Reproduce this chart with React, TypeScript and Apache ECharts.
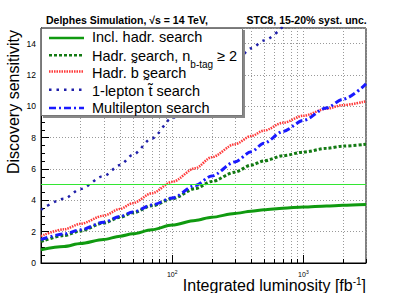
import React, { useEffect, useRef } from "react";
import * as echarts from "echarts";

// ---- data ----
const lumi = [10, 15, 20, 30, 40, 50, 70, 100, 150, 200, 300, 400, 500, 700, 1000, 1500, 2000, 3000];
const inclHadr = [0.85, 1.05, 1.24, 1.5, 1.71, 1.86, 2.12, 2.42, 2.72, 2.92, 3.16, 3.3, 3.4, 3.5, 3.57, 3.64, 3.68, 3.73];
const hadrNb2 = [1.36, 1.75, 2.05, 2.55, 2.92, 3.2, 3.65, 4.1, 4.75, 5.2, 5.8, 6.25, 6.52, 6.85, 7.08, 7.32, 7.46, 7.58];
const hadrB = [1.72, 2.15, 2.5, 3.02, 3.45, 3.82, 4.45, 5.18, 6.05, 6.75, 7.58, 8.1, 8.45, 8.95, 9.4, 9.85, 10.08, 10.32];
const multilep = [1.5, 1.85, 2.12, 2.6, 2.97, 3.25, 3.7, 4.15, 4.95, 5.55, 6.45, 7.1, 7.65, 8.4, 9.1, 9.9, 10.45, 11.43];
const lumiStop = [10, 15, 20, 30, 40, 50, 70, 100, 150, 200, 300, 400, 500, 700];
const oneLepStop = [3.4, 4.1, 4.72, 5.55, 6.25, 6.9, 7.95, 9.25, 10.55, 11.45, 12.8, 13.7, 14.2, 15.1];
const discoveryLevel = 5;

const xMajorTicks = [100, 1000];
const xMinorTicks = [20, 30, 40, 50, 60, 70, 80, 90, 200, 300, 400, 500, 600, 700, 800, 900, 2000, 3000];

const legendNames = [
  "Incl. hadr. search",
  "Hadr. search, n_b-tag ≥ 2",
  "Hadr. b search",
  "1-lepton t̃ search",
  "Multilepton search",
];

const FONT = '"Liberation Sans", Arial, Helvetica, sans-serif';

const styles = [
  { color: "#109a10", width: 3, dash: "solid" as any },
  { color: "#137a13", width: 3, dash: [3, 2] },
  { color: "#ff3a3a", width: 2.5, dash: [1.5, 1] },
  { color: "#2020aa", width: 2.5, dash: [2.5, 5] },
  { color: "#1a1aff", width: 3, dash: [7, 3, 2, 3] },
];

export default function App() {
  const ref = useRef<HTMLDivElement>(null);
  useEffect(() => {
    document.body.style.margin = "0";
    const chart = echarts.init(ref.current!, null, { renderer: "svg" });
    const seriesData = [
      lumi.map((x, i) => [x, inclHadr[i]]),
      lumi.map((x, i) => [x, hadrNb2[i]]),
      lumi.map((x, i) => [x, hadrB[i]]),
      lumiStop.map((x, i) => [x, oneLepStop[i]]),
      lumi.map((x, i) => [x, multilep[i]]),
    ];
    const gridTicks = [
      ...xMajorTicks.map((v) => [v, 0, 1]),
      ...xMinorTicks.map((v) => [v, 0, 0]),
    ];

    const lineSeries: any[] = seriesData.map((d, i) => ({
      type: "line",
      name: legendNames[i],
      data: d,
      showSymbol: false,
      symbol: "none",
      smooth: 0.3,
      smoothMonotone: "x",
      clip: true,
      z: 3,
      lineStyle: { color: styles[i].color, width: styles[i].width, type: styles[i].dash },
      ...(i === 0
        ? {
            markLine: {
              silent: true,
              symbol: ["none", "none"],
              label: { show: false },
              lineStyle: { color: "#33e633", width: 1, type: "solid" },
              data: [{ yAxis: discoveryLevel }],
            },
          }
        : {}),
    }));

    const rowY = [38, 55.3, 71.5, 89.7, 108];
    const textY = [37, 55.5, 72.5, 91, 107.5];
    const legendGraphics: any[] = [
      { type: "rect", shape: { x: 43, y: 30, width: 202, height: 88 }, style: { fill: "#888" }, z: 10 },
      { type: "rect", shape: { x: 41.5, y: 28.5, width: 201, height: 87 }, style: { fill: "#fff", stroke: "#777", lineWidth: 1 }, z: 11 },
    ];
    rowY.forEach((y, i) => {
      legendGraphics.push({
        type: "line",
        z: 12,
        shape: { x1: 49, y1: y, x2: 84, y2: y },
        style: {
          stroke: styles[i].color,
          lineWidth: Math.min(styles[i].width, 2.5),
          lineDash: styles[i].dash === "solid" ? null : styles[i].dash,
        },
      });
    });
    const legendTexts = [
      "{a|Incl. hadr. search}",
      "{a|Hadr. s\u0330earch, n}{b|b-tag}{a| ≥ 2}",
      "{a|Hadr. b s\u0330earch}",
      "{a|1-lepton t\u0303 search}",
      "{a|Multilepton search}",
    ];
    legendTexts.forEach((t, i) => {
      legendGraphics.push({
        type: "text",
        z: 12,
        x: 92,
        y: textY[i],
        style: {
          text: t,
          align: "left",
          verticalAlign: "middle",
          rich: {
            a: { fontSize: 14.5, fontFamily: FONT, fill: "#000", lineHeight: 28 },
            b: { fontSize: 10, fontFamily: FONT, fill: "#000", verticalAlign: "bottom", lineHeight: 12 },
          },
        },
      });
    });

    const option: any = {
      animation: false,
      backgroundColor: "#fff",
      grid: { left: 41, right: 41, top: 28, bottom: 30, show: true, borderColor: "#000", borderWidth: 1 },
      xAxis: {
        type: "log",
        logBase: 10,
        min: 10,
        max: 3000,
        axisLine: { show: true, onZero: false, lineStyle: { color: "#000", width: 1 } },
        axisTick: { show: false },
        splitLine: { show: false },
        axisLabel: {
          margin: 6,
          color: "#000",
          fontFamily: FONT,
          fontSize: 7,
          showMinLabel: false,
          showMaxLabel: false,
          formatter: (v: number) => (Math.abs(v - 100) < 1e-6 ? "{b|10}{s|2}" : Math.abs(v - 1000) < 1e-6 ? "{b|10}{s|3}" : ""),
          rich: {
            b: { fontSize: 7, fontFamily: FONT, color: "#000", lineHeight: 11 },
            s: { fontSize: 5, fontFamily: FONT, color: "#000", verticalAlign: "top", lineHeight: 11 },
          },
        },
      },
      yAxis: {
        type: "value",
        min: 0,
        max: 15,
        interval: 2,
        axisLine: { show: true, lineStyle: { color: "#000", width: 1 } },
        axisTick: { show: true, inside: true, length: 8, lineStyle: { color: "#000" } },
        minorTick: { show: true, splitNumber: 4, length: 4, lineStyle: { color: "#000" } },
        splitLine: { show: true, lineStyle: { color: "#999", type: [1, 2], width: 1 } },
        axisLabel: { margin: 5, color: "#000", fontFamily: FONT, fontSize: 8.5, showMaxLabel: false },
      },
      series: [
        {
          type: "custom",
          z: 1,
          silent: true,
          clip: false,
          data: gridTicks,
          encode: { x: 0, y: 1 },
          renderItem: (params: any, api: any) => {
            const v = api.value(0);
            const major = api.value(2);
            const b = api.coord([v, 0]);
            const t = api.coord([v, 15]);
            const x = Math.round(b[0]) + 0.5;
            return {
              type: "group",
              children: [
                { type: "line", shape: { x1: x, y1: b[1], x2: x, y2: t[1] }, style: { stroke: "#999", lineWidth: 1, lineDash: [1, 2] } },
                { type: "line", shape: { x1: x, y1: b[1], x2: x, y2: b[1] - (major ? 8 : 4) }, style: { stroke: "#000", lineWidth: 1 } },
              ],
            };
          },
        },
        ...lineSeries,
      ],
      graphic: [
        {
          type: "text",
          x: 46,
          y: 20,
          z: 12,
          style: { text: "Delphes Simulation, √s = 14 TeV,", fontSize: 10.5, fontWeight: "bold", fontFamily: FONT, fill: "#000", align: "left", verticalAlign: "middle" },
        },
        {
          type: "text",
          x: 246.5,
          y: 20,
          z: 12,
          style: { text: "STC8, 15-20% syst. unc.", fontSize: 10.5, fontWeight: "bold", fontFamily: FONT, fill: "#000", align: "left", verticalAlign: "middle" },
        },
        {
          type: "text",
          x: 13,
          y: 30,
          rotation: Math.PI / 2,
          z: 12,
          style: { text: "Discovery sensitivity", fontSize: 16, fontFamily: FONT, fill: "#000", align: "right", verticalAlign: "middle" },
        },
        {
          type: "text",
          x: 366,
          y: 285.5,
          z: 12,
          style: {
            text: "{a|Integrated luminosity [fb}{s|-1}{a|]}",
            align: "right",
            verticalAlign: "middle",
            rich: {
              a: { fontSize: 16, fontFamily: FONT, fill: "#000", lineHeight: 18 },
              s: { fontSize: 10, fontFamily: FONT, fill: "#000", verticalAlign: "top", lineHeight: 18 },
            },
          },
        },
        ...legendGraphics,
      ],
    };
    chart.setOption(option);
    return () => chart.dispose();
  }, []);
  return <div ref={ref} style={{ width: 407, height: 293 }} />;
}
